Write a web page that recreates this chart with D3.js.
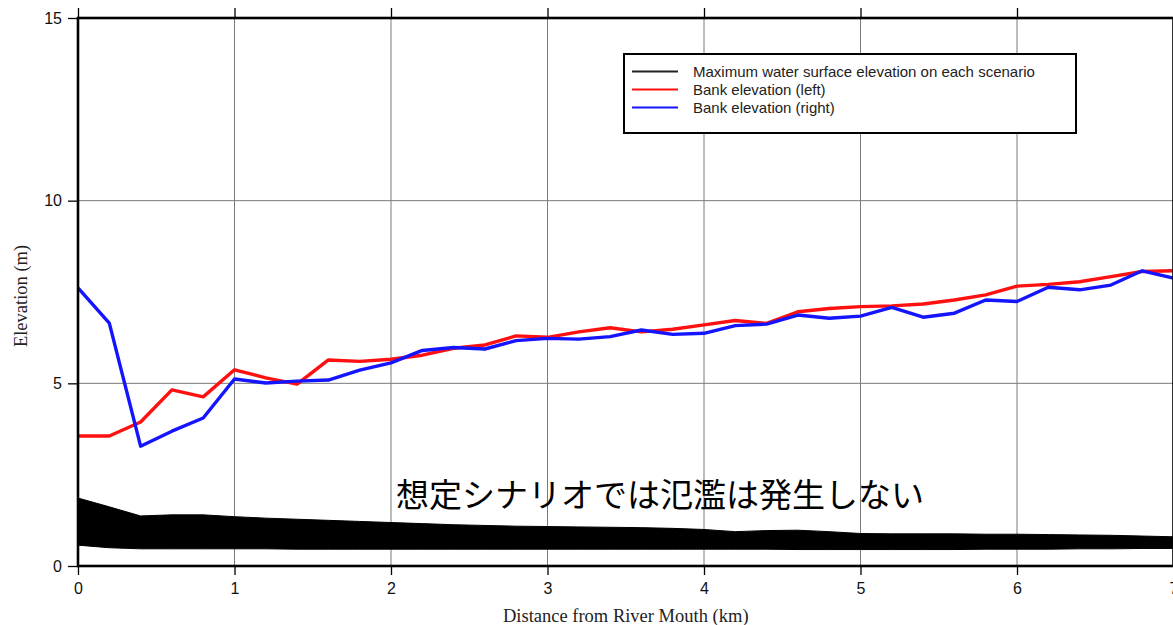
<!DOCTYPE html>
<html>
<head>
<meta charset="utf-8">
<script src="https://cdn.jsdelivr.net/npm/d3@7"></script>
<style>
  html, body { margin: 0; padding: 0; background: #fff; }
  svg { display: block; }
</style>
</head>
<body>
<svg id="chart"></svg>
<script>
// distance from river mouth (km), one section every 200 m
const distances = [0, 0.2, 0.4, 0.6, 0.8, 1.0, 1.2, 1.4, 1.6, 1.8, 2.0, 2.2, 2.4, 2.6, 2.8, 3.0, 3.2, 3.4,
  3.6, 3.8, 4.0, 4.2, 4.4, 4.6, 4.8, 5.0, 5.2, 5.4, 5.6, 5.8, 6.0, 6.2, 6.4, 6.6, 6.8, 7.0]

const bankLeft = [3.56, 3.56, 3.94, 4.82, 4.63, 5.37, 5.15, 4.98, 5.64, 5.6, 5.66, 5.77, 5.96, 6.05, 6.3, 6.26,
  6.41, 6.52, 6.41, 6.48, 6.6, 6.72, 6.64, 6.96, 7.05, 7.1, 7.12, 7.17, 7.28, 7.42, 7.66, 7.71, 7.78, 7.92, 8.06, 8.08]

const bankRight = [7.61, 6.65, 3.28, 3.69, 4.05, 5.12, 5.01, 5.06, 5.09, 5.36, 5.56, 5.9, 5.98, 5.94, 6.17, 6.23,
  6.21, 6.28, 6.46, 6.34, 6.37, 6.58, 6.62, 6.87, 6.78, 6.84, 7.08, 6.81, 6.92, 7.28, 7.24, 7.63, 7.56, 7.69, 8.08, 7.88]

// envelope of the maximum water surface over all scenarios
const waterHighest = [1.86, 1.62, 1.37, 1.4, 1.4, 1.35, 1.31, 1.28, 1.25, 1.22, 1.19, 1.16, 1.13, 1.11, 1.09, 1.08,
  1.07, 1.06, 1.05, 1.03, 1.0, 0.94, 0.97, 0.98, 0.94, 0.89, 0.88, 0.88, 0.88, 0.87, 0.87, 0.86, 0.85, 0.84, 0.82, 0.8]
const waterLowest = [0.57, 0.5, 0.47, 0.47, 0.47, 0.47, 0.47, 0.46, 0.46, 0.46, 0.46, 0.46, 0.46, 0.46, 0.46, 0.46,
  0.46, 0.46, 0.46, 0.46, 0.46, 0.46, 0.46, 0.45, 0.45, 0.45, 0.45, 0.45, 0.45, 0.46, 0.46, 0.46, 0.47, 0.47, 0.48, 0.48]

const xTicks = [0, 1, 2, 3, 4, 5, 6, 7]
const yTicks = [0, 5, 10, 15]

const legendLabels = [
  "Maximum water surface elevation on each scenario",
  "Bank elevation (left)",
  "Bank elevation (right)",
]
const legendColors = ["#222", "#ff1010", "#1414ff"]

const note = "想定シナリオでは氾濫は発生しない"

const width = 1173
const height = 625
const plot = { left: 78, right: 1173.5, top: 18, bottom: 566 }

const svg = d3.select("#chart").attr("width", width).attr("height", height)
svg.append("rect").attr("width", width).attr("height", height).attr("fill", "#fff")

const x = d3.scaleLinear().domain([0, 7]).range([plot.left, plot.right])
const y = d3.scaleLinear().domain([0, 15]).range([plot.bottom, plot.top])

// grid
const grid = svg.append("g").attr("class", "grid").attr("stroke", "#7a7a7a").attr("stroke-width", 1)
grid.selectAll("line.v")
  .data(xTicks.slice(1, -1))
  .join("line")
  .attr("class", "v")
  .attr("x1", (d) => x(d)).attr("x2", (d) => x(d))
  .attr("y1", plot.top).attr("y2", plot.bottom)
grid.selectAll("line.h")
  .data(yTicks.slice(1, -1))
  .join("line")
  .attr("class", "h")
  .attr("x1", plot.left).attr("x2", plot.right)
  .attr("y1", (d) => y(d)).attr("y2", (d) => y(d))

// water surface band
const pts = distances.map((d, i) => ({ d, hi: waterHighest[i], lo: waterLowest[i] }))
const area = d3.area().x((p) => x(p.d)).y0((p) => y(p.lo)).y1((p) => y(p.hi))
svg.append("path").attr("d", area(pts)).attr("fill", "#000").attr("stroke", "#000").attr("stroke-width", 1)

// bank lines
const drawLine = (values, color) => {
  const line = d3.line().x((p) => x(p[0])).y((p) => y(p[1]))
  svg.append("path")
    .attr("d", line(distances.map((d, i) => [d, values[i]])))
    .attr("fill", "none")
    .attr("stroke", color)
    .attr("stroke-width", 3.4)
    .attr("stroke-linejoin", "round")
}
drawLine(bankLeft, legendColors[1])
drawLine(bankRight, legendColors[2])

// axes
const bottomAxis = svg.append("g")
  .attr("transform", `translate(0,${plot.bottom})`)
  .call(d3.axisBottom(x).tickValues(xTicks).tickSize(9).tickPadding(8).tickFormat(d3.format("d")))
const leftAxis = svg.append("g")
  .attr("transform", `translate(${plot.left},0)`)
  .call(d3.axisLeft(y).tickValues(yTicks).tickSize(10).tickPadding(6).tickFormat(d3.format("d")))
const topAxis = svg.append("g")
  .attr("transform", `translate(0,${plot.top})`)
  .call(d3.axisTop(x).tickValues(xTicks).tickSize(10).tickFormat(""))

;[bottomAxis, leftAxis, topAxis].forEach((g) => {
  g.select(".domain").remove()
  g.selectAll(".tick line").attr("stroke", "#000").attr("stroke-width", 1.3)
  g.selectAll(".tick text")
    .attr("fill", "#111")
    .style("font-family", "'Liberation Sans', Arial, sans-serif")
    .style("font-size", "16px")
})

// frame
svg.append("rect")
  .attr("x", plot.left).attr("y", plot.top)
  .attr("width", plot.right - plot.left).attr("height", plot.bottom - plot.top)
  .attr("fill", "none").attr("stroke", "#000").attr("stroke-width", 2.6)

// axis titles
svg.append("text")
  .attr("x", (plot.left + plot.right) / 2)
  .attr("y", 622)
  .attr("text-anchor", "middle")
  .style("font-family", "'Liberation Serif', 'Times New Roman', serif")
  .style("font-size", "18.5px")
  .attr("fill", "#222")
  .text("Distance from River Mouth (km)")

svg.append("text")
  .attr("transform", `translate(27,${(plot.top + plot.bottom) / 2 + 4}) rotate(-90)`)
  .attr("text-anchor", "middle")
  .style("font-family", "'Liberation Serif', 'Times New Roman', serif")
  .style("font-size", "18.5px")
  .attr("fill", "#222")
  .text("Elevation (m)")

// legend
const legend = svg.append("g").attr("transform", "translate(624,54)")
legend.append("rect")
  .attr("width", 452).attr("height", 79)
  .attr("fill", "#fff").attr("stroke", "#000").attr("stroke-width", 2)
legendLabels.forEach((label, i) => {
  const ly = 17.5 + i * 18
  legend.append("line")
    .attr("x1", 8).attr("x2", 54)
    .attr("y1", ly).attr("y2", ly)
    .attr("stroke", legendColors[i]).attr("stroke-width", 2)
  legend.append("text")
    .attr("x", 69).attr("y", ly + 5)
    .style("font-family", "'Liberation Sans', Arial, sans-serif")
    .style("font-size", "15px")
    .attr("fill", "#222")
    .text(label)
})

// annotation
svg.append("text")
  .attr("x", 396)
  .attr("y", 507)
  .style("font-family", "'Noto Sans CJK JP', sans-serif")
  .style("font-size", "33px")
  .attr("fill", "#000")
  .text(note)
</script>
</body>
</html>
